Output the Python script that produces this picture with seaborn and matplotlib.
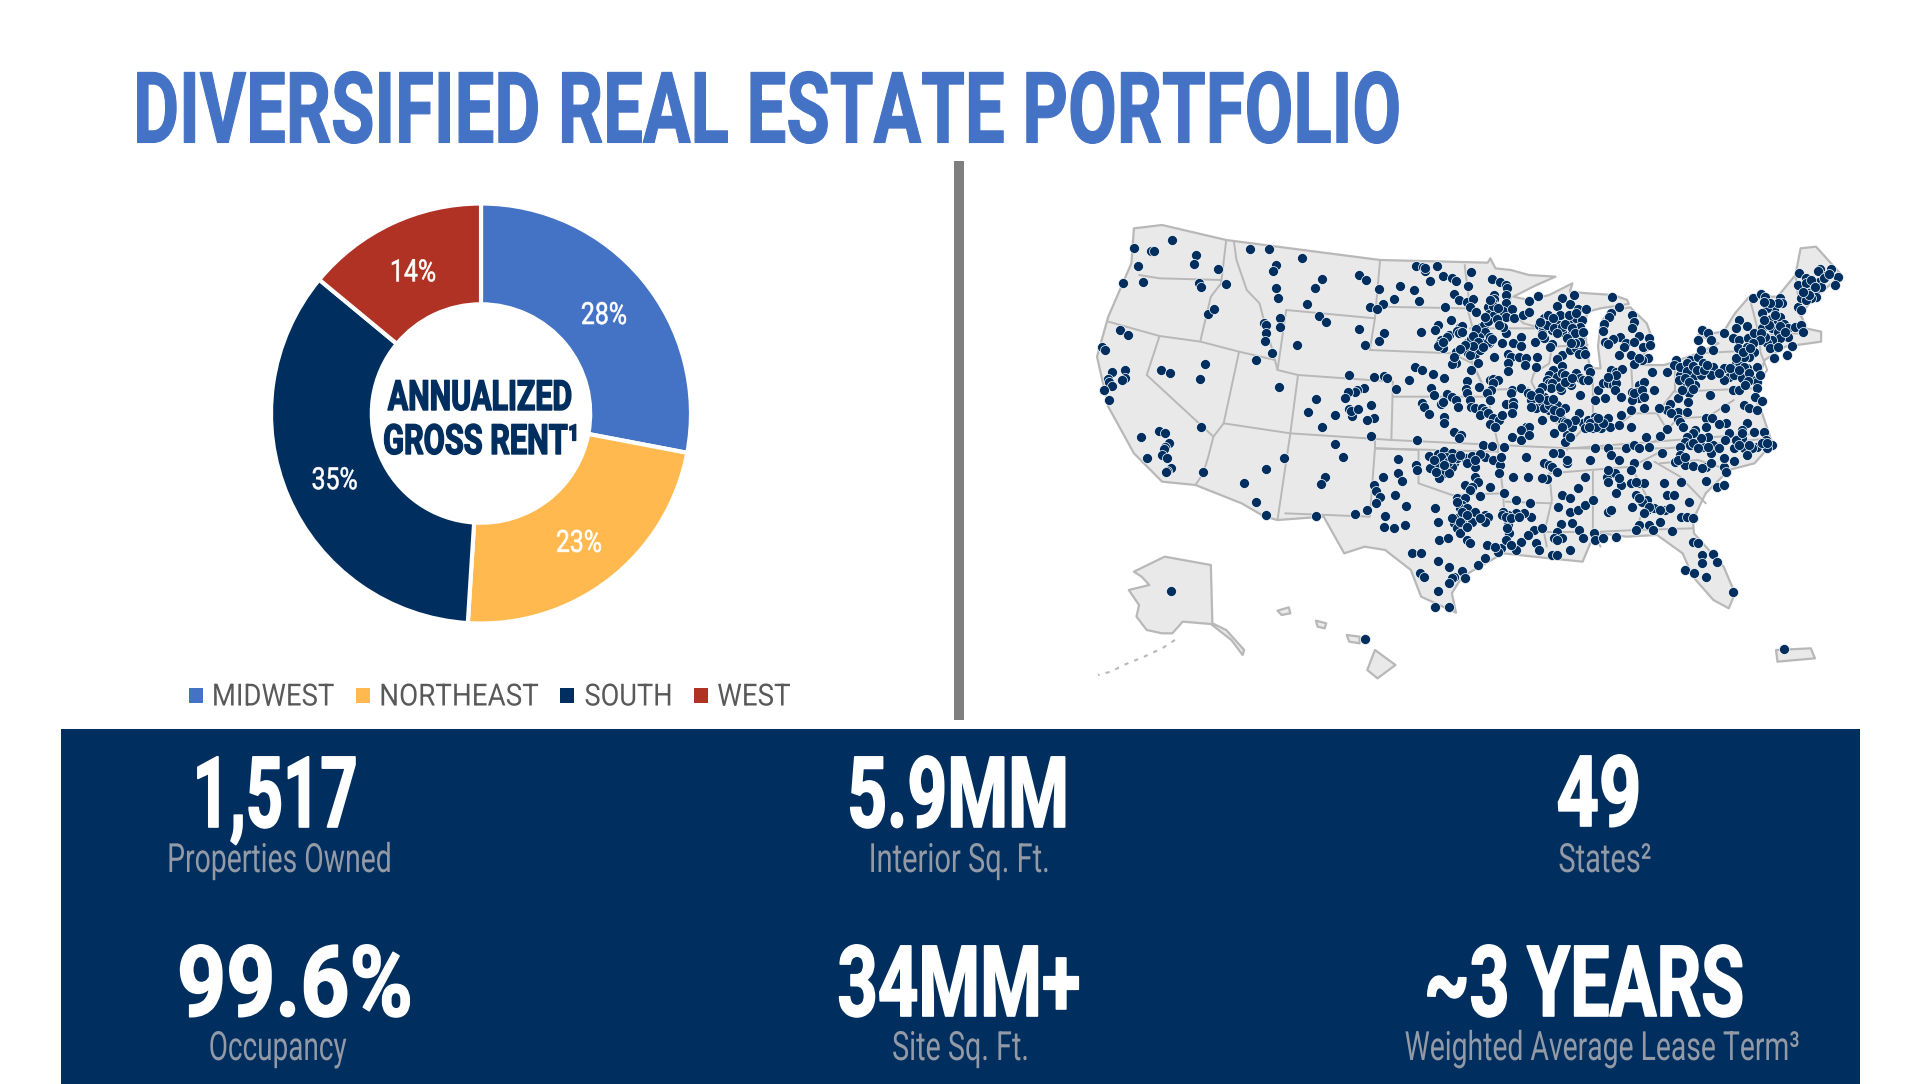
import matplotlib
matplotlib.use("Agg")
import matplotlib.pyplot as plt
import pandas as pd
import seaborn as sns
from matplotlib.patches import Rectangle
from matplotlib.patheffects import AbstractPathEffect
from matplotlib.transforms import Affine2D

NAVY = "#002f5f"
TITLE_BLUE = "#4472c4"
GREY_LABEL = "#939aa5"
LAND = "#e9e9e9"
BORDER = "#b8b8b8"

regions = ["MIDWEST", "NORTHEAST", "SOUTH", "WEST"]
rent_share = [28, 23, 35, 14]
region_colors = ["#4472c4", "#ffb94f", NAVY, "#b03224"]

big_numbers = ["1,517", "5.9MM", "49", "99.6%", "34MM+", "~3 YEARS"]
big_labels = ["Properties Owned", "Interior Sq. Ft.", "States²", "Occupancy", "Site Sq. Ft.", "Weighted Average Lease Term³"]

us_outline = [(150,85),(205,75),(330,120),(630,180),(840,188),(845,175),(855,205),(885,210),(920,225),(972,230),(935,255),(890,290),(920,300),(960,285),(1005,250),(1000,275),(1035,280),(1085,285),(1112,300),(1115,312),(1060,325),(1035,335),(1030,365),(1000,395),(1030,395),(1035,470),(1040,505),(1060,505),(1055,440),(1060,370),(1078,330),(1118,322),(1150,370),(1165,435),(1145,460),(1135,495),(1185,495),(1250,460),(1290,430),(1250,405),(1300,395),(1322,340),(1350,290),(1405,290),(1440,225),(1450,145),(1480,140),(1530,225),(1480,290),(1450,340),(1460,385),(1490,395),(1490,425),(1420,440),(1380,480),(1372,520),(1365,560),(1360,590),(1375,640),(1395,730),(1360,790),(1310,810),(1265,880),(1240,960),(1242,1000),(1300,1100),(1322,1180),(1310,1225),(1280,1200),(1240,1130),(1220,1060),(1170,1005),(1110,1010),(1060,1000),(1040,1030),(1025,1085),(960,1075),(870,1060),(790,1130),(770,1180),(778,1238),(710,1190),(690,1110),(640,1050),(600,1040),(560,1060),(520,950),(430,960),(405,950),(360,910),(270,855),(205,845),(150,760),(100,620),(78,470),(100,350),(145,190)]
alaska = [(150,1115),(210,1070),(300,1095),(303,1270),(330,1290),(365,1350),(362,1365),(340,1320),(300,1272),(245,1265),(225,1300),(205,1300),(175,1290),(155,1250),(160,1215),(140,1170),(180,1155),(165,1130)]
hawaii = [(620,1350),(660,1395),(625,1435),(605,1410)]
kauai = [(430,1232),(452,1222),(455,1240),(438,1245)]
oahu = [(505,1262),(525,1270),(522,1285),(508,1280)]
maui = [(565,1305),(590,1310),(590,1330),(570,1325)]
puerto_rico = [(1402,1350),(1470,1345),(1478,1375),(1405,1385)]
aleutians = [(230,1320),(205,1345),(170,1370),(130,1395),(105,1415),(80,1425)]

state_lines = [
    [(160,225),(200,235),(320,240)],
    [(330,120),(320,250),(300,290),(280,420)],
    [(100,365),(200,408),(280,425),(355,455),(425,480)],
    [(345,125),(350,180),(370,270),(395,310),(405,370),(420,450),(430,510)],
    [(447,330),(620,355)],
    [(447,330),(430,510),(470,525),(655,545)],
    [(470,525),(455,700)],
    [(655,545),(652,720)],
    [(355,455),(325,670),(455,700),(652,720),(860,735)],
    [(200,408),(175,525),(305,710),(295,770),(285,820),(270,855)],
    [(325,670),(305,710)],
    [(455,700),(430,960)],
    [(620,720),(620,745),(610,950),(445,940)],
    [(620,745),(705,750),(705,850),(770,885),(870,880),(875,1040),(870,1060)],
    [(620,745),(860,755),(870,880)],
    [(655,590),(840,590),(860,735)],
    [(610,450),(770,460),(810,490),(840,590)],
    [(620,355),(610,450)],
    [(620,320),(800,325),(810,380),(805,470),(835,570),(920,565)],
    [(630,180),(620,355)],
    [(795,195),(805,320)],
    [(805,385),(945,385),(965,440),(960,490),(930,520),(925,545),(960,650),(1005,710),(995,750)],
    [(885,290),(880,330),(910,370),(945,385)],
    [(965,440),(1035,435)],
    [(860,755),(860,735),(1000,745),(1165,725),(1190,690),(1170,640),(1125,640),(1120,505)],
    [(1045,500),(1045,640),(1030,680),(1005,720)],
    [(1030,680),(1080,690),(1125,640)],
    [(1205,475),(1205,570),(1170,640)],
    [(1250,460),(1370,450),(1385,510),(1360,565),(1205,575)],
    [(1165,725),(1375,700)],
    [(1005,745),(1190,745),(1390,715)],
    [(960,820),(1120,800),(1190,745)],
    [(960,820),(965,900),(950,1000),(955,1040)],
    [(875,905),(965,910)],
    [(950,995),(1010,995)],
    [(1045,815),(1045,1000),(1060,1040)],
    [(1120,800),(1150,890),(1130,990)],
    [(1060,995),(1130,990),(1240,985)],
    [(1165,785),(1215,830),(1265,910)],
    [(1175,790),(1250,780),(1310,810)],
    [(1190,690),(1210,655),(1270,650),(1320,600)],
    [(1350,290),(1365,380),(1372,450)],
    [(1405,290),(1400,385)],
    [(1440,225),(1450,350)],
    [(1365,405),(1450,400)],
    [(1365,380),(1455,375)],
]

dots_west = [(150,145),(183,153),(189,152),(224,121),(272,164),(267,193),(157,199),(128,249),(168,246),(277,250),(280,262),(313,207),(330,253),(294,341),(306,327),(122,391),(138,405),(88,440),(94,450),(108,516),(133,510),(133,535),(127,541),(100,538),(101,545),(108,558),(91,570),(102,600),(203,509),(221,519),(279,537),(289,491),(163,710),(198,694),(211,699),(218,728),(211,742),(208,747),(205,764),(215,773),(175,775),(222,804),(214,813),(212,815),(285,815),(281,682)]
dots_mountain = [(377,146),(414,146),(477,175),(428,194),(422,214),(428,263),(431,295),(488,311),(517,236),(504,264),(588,226),(602,239),(628,266),(635,311),(658,298),(611,320),(624,328),(668,257),(696,271),(706,302),(403,370),(407,376),(435,355),(435,382),(407,400),(405,423),(420,458),(389,481),(468,434),(511,347),(525,365),(588,387),(637,398),(627,422),(600,436),(709,395),(432,560),(569,524),(618,531),(638,527),(643,533),(686,539),(661,568),(598,564),(585,570),(582,575),(567,577),(561,594),(505,596),(489,636),(543,646),(576,648),(569,628),(573,632),(587,627),(612,614),(618,654),(605,660),(517,680),(613,708),(543,733),(558,771),(702,719),(442,774),(408,806),(364,850),(388,905),(408,945),(523,830),(514,853),(506,949),(581,941),(605,931)]
dots_plains = [(700,199),(714,200),(717,212),(718,203),(741,199),(728,242),(752,228),(771,234),(779,244),(801,257),(808,216),(775,282),(783,301),(800,305),(812,298),(757,321),(806,321),(818,335),(848,238),(863,245),(876,254),(877,263),(853,286),(875,285),(852,298),(849,307),(840,320),(875,310),(870,333),(888,328),(842,343),(853,345),(876,350),(891,355),(908,345),(920,335),(921,302),(938,288),(768,361),(743,374),(738,390),(765,405),(785,380),(790,378),(780,392),(783,398),(826,381),(832,376),(841,362),(858,356),(835,395),(875,398),(870,380),(905,410),(890,430),(868,430),(905,437),(932,425),(748,420),(745,432),(752,445),(778,455),(800,430),(808,418),(822,412),(828,430),(820,445),(842,430),(840,425),(815,462),(801,460),(805,465),(825,450),(778,488),(770,492),(820,490),(852,472),(880,462),(885,470),(880,490),(900,472),(914,474),(936,472),(912,496),(934,500),(880,512),(698,502),(712,511),(733,523),(754,535),(730,563),(736,585),(760,583),(770,590),(779,600),(808,510),(800,542),(798,568),(822,560),(800,580),(845,540),(850,537),(860,540),(850,550),(846,570),(838,580),(805,600),(845,600),(711,610),(716,620),(725,642),(748,613),(752,605),(781,622),(808,620),(815,623),(828,625),(835,632),(825,645),(840,640),(850,655),(862,660),(845,672),(855,680),(755,650),(755,670),(775,695),(787,705),(783,715),(888,570),(885,580),(905,565),(875,612),(890,605),(890,617),(867,645),(888,640),(918,580),(925,600),(935,625),(915,682),(920,680),(905,690),(888,710),(905,720),(920,705),(950,590)]
dots_lakes = [(940,375),(950,355),(948,385),(945,400),(960,370),(965,390),(975,372),(985,293),(975,318),(1000,312),(1008,286),(1015,327),(1032,327),(1002,370),(1012,355),(1023,360),(1020,380),(985,395),(1002,405),(1020,408),(965,432),(962,440),(985,465),(975,478),(1000,450),(1012,445),(1025,450),(1020,425),(950,415),(945,405),(958,345),(1082,290),(1095,322),(1080,340),(1077,350),(1122,345),(1125,365),(1122,385),(1067,372),(1065,392),(1098,410),(1085,418),(1068,425),(1075,432),(1135,408),(1155,413),(1110,430),(1105,440),(1125,425),(1143,440),(1157,435),(1095,466),(1120,465),(1152,475),(1140,480),(1125,492),(1135,475),(1160,515),(985,497),(968,510),(960,525),(975,530),(955,540),(960,550),(965,548),(985,520),(990,525),(1012,520),(1020,535),(1025,540),(1035,505),(1040,515),(1003,555),(982,570),(963,565),(945,560),(940,575),(925,585),(945,605),(970,610),(975,615),(990,625),(960,630),(950,625),(1000,545),(1020,585),(1055,570),(1080,510),(1090,515),(1102,507),(1065,550),(1075,550),(1085,555),(1090,550),(1050,600),(1068,595),(1088,570),(1100,590),(1122,575),(1135,555),(1130,575),(1130,590),(1145,545),(1165,570),(1135,595),(1122,600),(1120,630),(1100,645),(1145,625),(1018,640),(1025,670),(1035,660),(1050,650),(1045,665),(1060,660),(1075,655),(1045,685),(1030,685),(1060,685),(1078,682),(1120,680),(1095,675),(985,660),(990,665),(970,650),(945,660),(970,700),(995,705),(990,725),(1005,680),(1000,710)]
dots_east = [(1208,480),(1203,495),(1190,517),(1235,480),(1235,505),(1220,500),(1215,525),(1235,525),(1240,530),(1220,548),(1225,553),(1235,560),(1245,555),(1232,580),(1250,470),(1255,450),(1258,390),(1270,400),(1275,420),(1250,420),(1280,450),(1260,490),(1280,500),(1275,525),(1255,525),(1300,505),(1325,490),(1330,485),(1345,505),(1310,530),(1300,540),(1320,525),(1335,535),(1355,540),(1365,545),(1340,500),(1365,500),(1273,585),(1318,570),(1330,570),(1365,565),(1362,590),(1375,602),(1210,595),(1195,612),(1190,630),(1210,635),(1228,635),(1230,607),(1173,625),(1197,640),(1210,658),(1215,665),(1220,680),(1190,688),(1175,708),(1148,712),(1303,625),(1340,615),(1350,625),(1365,630),(1345,670),(1305,670),(1358,295),(1372,283),(1380,290),(1410,295),(1413,310),(1398,330),(1385,325),(1375,340),(1330,360),(1345,377),(1325,385),(1318,415),(1330,420),(1328,445),(1300,400),(1348,415),(1360,400),(1380,368),(1375,385),(1392,358),(1405,365),(1410,350),(1418,372),(1395,385),(1405,395),(1425,385),(1440,380),(1450,375),(1455,395),(1433,438),(1425,410),(1410,415),(1395,420),(1385,430),(1390,445),(1405,440),(1360,455),(1350,470),(1340,470),(1325,475),(1423,465),(1398,475),(1445,322),(1450,330),(1447,220),(1488,207),(1510,208),(1523,230),(1517,255),(1498,228),(1483,212),(1485,245),(1460,233),(1475,255),(1450,262),(1445,255),(1465,265),(1480,270),(1490,260),(1480,290),(1470,295),(1465,280),(1450,295),(1460,300),(1265,655),(1278,655),(1245,690),(1265,680),(1290,672),(1310,700),(1335,690),(1335,715),(1360,695),(1378,695),(1382,720),(1395,735),(1385,745),(1365,740),(1355,745),(1340,745),(1320,745),(1325,720),(1302,720),(1280,735),(1260,740),(1270,710),(1255,715),(1240,700),(1228,710),(1225,725),(1235,735),(1215,740),(1215,765),(1205,785),(1220,785),(1225,795),(1240,797),(1265,800),(1258,805),(1275,790),(1300,800),(1305,815),(1320,782),(1345,765),(1300,775),(1275,760),(1180,760),(1265,842),(1287,860),(1300,855),(1216,845),(1183,848)]
dots_south = [(665,778),(636,830),(665,820),(672,843),(700,795),(702,810),(725,767),(741,790),(728,805),(743,762),(755,752),(770,760),(758,770),(775,790),(770,800),(750,822),(765,820),(745,835),(780,775),(795,775),(810,768),(830,735),(849,737),(835,770),(825,763),(815,800),(850,780),(863,795),(862,820),(816,830),(820,845),(795,855),(810,860),(805,870),(845,862),(872,742),(865,770),(618,855),(622,872),(630,890),(623,910),(660,885),(680,918),(640,947),(638,982),(657,985),(679,974),(738,925),(743,965),(745,1020),(763,1015),(780,895),(795,895),(790,915),(785,925),(783,950),(790,970),(775,970),(780,985),(800,925),(815,935),(835,945),(840,950),(835,965),(810,965),(825,888),(785,1000),(800,1020),(805,1030),(838,1035),(865,1045),(860,1055),(855,1040),(692,1058),(710,1058),(742,1082),(765,1100),(820,1095),(835,1075),(790,1113),(796,1135),(775,1130),(770,1135),(708,1120),(715,1132),(765,1150),(742,1173),(737,1220),(765,1220),(915,770),(890,830),(872,880),(895,900),(923,908),(925,950),(910,940),(895,940),(880,945),(870,935),(880,965),(880,975),(882,1000),(875,1020),(905,1025),(895,1050),(930,990),(945,985),(918,1005),(935,1030),(940,1050),(885,1035),(950,790),(960,795),(965,800),(955,838),(975,815),(995,790),(980,760),(968,760),(995,780),(918,830),(945,835),(1016,865),(1030,830),(985,885),(1000,895),(977,922),(1000,935),(1015,930),(1030,915),(1045,900),(1075,935),(1080,930),(982,973),(1005,970),(975,995),(1018,990),(970,1015),(985,1015),(975,1020),(1000,1050),(965,1065),(975,1065),(1048,1000),(1025,1015),(1050,1020),(1065,1015),(1090,1012),(1040,780),(1050,745),(1075,745),(1110,745),(1125,735),(1135,745),(1155,740),(1080,765),(1095,780),(1125,790),(1150,795),(1120,810),(1072,830),(1088,820),(1075,845),(1100,855),(1090,880),(1120,850),(1135,850),(1145,850),(1130,885),(1150,900),(1122,920),(1140,905),(1150,930),(1165,925),(1185,930),(1195,925),(1190,885),(1203,885),(1232,907),(1217,950),(1228,950),(1240,955),(1175,967),(1155,975),(1135,975),(1130,990),(1162,990),(1200,992)]
dots_florida = [(1240,1025),(1250,1030),(1257,1065),(1280,1063),(1287,1085),(1257,1090),(1224,1110),(1243,1120),(1265,1130),(1318,1177)]
dots_islands = [(223,1172),(600,1318),(1417,1348)]
dots_clusters = [(835,352),(850,318),(845,300),(860,325),(862,375),(818,388),(812,408),(845,410),(848,418),(820,425),(812,438),(830,440),(795,435),(785,448),(775,470),(760,410),(742,438),(753,425),(790,395),(955,375),(942,365),(970,385),(985,380),(990,372),(1005,385),(1010,398),(1025,395),(995,415),(975,400),(980,345),(998,345),(1012,340),(968,355),(1010,430),(1002,430),(1018,462),(1030,462),(1215,500),(1228,490),(1228,512),(1240,498),(1248,510),(1212,540),(1225,535),(1232,545),(1240,568),(1218,570),(1262,510),(1268,495),(1290,518),(1312,505),(1330,510),(1350,520),(1348,542),(1342,555),(1370,525),(1380,410),(1372,398),(1388,375),(1378,360),(1400,345),(1410,378),(1420,395),(1370,420),(1358,428),(1345,440),(1338,455),(1352,445),(1405,310),(1390,310),(1378,305),(1460,250),(1470,240),(1478,262),(1495,235),(1505,222),(1467,285),(1455,275),(748,770),(762,785),(770,775),(785,765),(735,780),(755,795),(740,815),(800,790),(815,780),(780,905),(790,935),(800,945),(770,955),(785,965),(800,980),(825,955),(868,945),(875,950),(885,955),(900,950),(878,985),(1040,668),(1052,680),(1065,670),(1055,655),(1038,680),(1010,660),(995,670),(985,680),(960,615),(970,630),(980,635),(955,600),(940,595),(925,620),(968,598),(980,560),(990,545),(1005,535),(1035,540),(1090,525),(1125,580),(1140,570),(1145,590),(1075,530),(1240,730),(1250,745),(1270,740),(1290,745),(1330,735),(1350,735),(1375,730),(1385,730),(1335,700),(1210,780),(1225,770),(1135,895),(1155,920),(1175,930),(1145,940),(1075,810),(1095,835),(1130,845)]


class Tall(AbstractPathEffect):
    # no condensed font is installed: the text is set small enough to fit its width,
    # then stretched up from its baseline and thickened
    def __init__(self, sy, grow=0):
        super().__init__()
        self.sy = sy
        self.grow = grow

    def draw_path(self, renderer, gc, tpath, affine, rgbFace=None):
        y0 = affine.get_matrix()[1, 2]
        tall = affine + Affine2D().translate(0, -y0).scale(1, self.sy).translate(0, y0)
        gc2 = renderer.new_gc()
        gc2.copy_properties(gc)
        gc2.set_linewidth(self.grow)
        if self.grow:
            gc2.set_foreground(rgbFace)
        renderer.draw_path(gc2, tpath, tall, rgbFace)
        gc2.restore()


def fit_width(text, width, grow=0):
    box = text.get_window_extent(fig.canvas.get_renderer())
    sx = width / box.width
    text.set_fontsize(text.get_fontsize() * sx)
    text.set_path_effects([Tall(1 / sx, grow)])


def put(x, y, s, size, color, width, weight="regular", grow=0):
    t = bg.text(x, y, s, fontsize=size, color=color, fontweight=weight, ha="center", va="baseline")
    fit_width(t, width, grow)
    return t


sns.set_theme(style="white")
plt.rcParams["font.family"] = ["Roboto", "DejaVu Sans"]

fig = plt.figure(figsize=(19.15, 10.84), dpi=100)
W, H = 1915, 1084

bg = fig.add_axes([0, 0, 1, 1])
bg.set_xlim(0, W)
bg.set_ylim(H, 0)
bg.axis("off")

put(767, 142.5, "DIVERSIFIED REAL ESTATE PORTFOLIO", 71, TITLE_BLUE, 1268, "bold", 0.8)
bg.add_patch(Rectangle((954, 161), 10, 559, color="#7f7f7f", lw=0))
bg.add_patch(Rectangle((61, 729), 1799, 355, color=NAVY, lw=0))

# donut
palette = sns.color_palette(region_colors)
pie_ax = fig.add_axes([(481 - 210) / W, 1 - (413.5 + 210) / H, 420 / W, 420 / H])
wedges, _, pct_texts = pie_ax.pie(
    rent_share,
    colors=palette,
    startangle=90,
    counterclock=False,
    radius=1,
    autopct="%d%%",
    pctdistance=0.76,
    wedgeprops={"width": 0.48, "edgecolor": "white", "linewidth": 3},
    textprops={"color": "white", "fontsize": 22},
)
pie_ax.set_xlim(-1, 1)
pie_ax.set_ylim(-1, 1)
for t in pct_texts:
    t.set_y(t.get_position()[1] - 0.025)
    fit_width(t, 46, 0.4)

put(480, 410, "ANNUALIZED", 30, NAVY, 184, "bold", 1)
put(481, 454, "GROSS RENT¹", 30, NAVY, 196, "bold", 1)

# legend, laid out by hand to follow the original spacing
legend_square_x = [189, 356, 560, 694.5]
legend_text_x = [273, 459, 628.6, 754]
legend_text_w = [122, 159, 88, 73]
for name, color, sq, tx, tw in zip(regions, palette, legend_square_x, legend_text_x, legend_text_w):
    bg.add_patch(Rectangle((sq, 688), 14, 15, color=color, lw=0))
    put(tx, 705.5, name, 22, "#595959", tw)

# map
map_ax = fig.add_axes([1057 / W, 1 - 720 / H, 800 / W, 520 / H])
map_ax.set_xlim(0, 1560)
map_ax.set_ylim(1560, 0)
map_ax.axis("off")
for shape in [us_outline, alaska, hawaii, kauai, oahu, maui, puerto_rico]:
    xs, ys = zip(*shape)
    map_ax.fill(xs, ys, facecolor=LAND, edgecolor=BORDER, linewidth=1.6, joinstyle="round")
for line in state_lines:
    xs, ys = zip(*line)
    map_ax.plot(xs, ys, color=BORDER, linewidth=1.4)
xs, ys = zip(*aleutians)
map_ax.plot(xs, ys, color=BORDER, linewidth=1.5, linestyle=(0, (2, 3)))

all_dots = dots_west + dots_mountain + dots_plains + dots_lakes + dots_east + dots_south + dots_florida + dots_islands + dots_clusters
dots = pd.DataFrame(all_dots, columns=["x", "y"])
sns.scatterplot(data=dots, x="x", y="y", ax=map_ax, color=NAVY, s=52, edgecolor="white", linewidth=0.5, legend=False, zorder=5)
map_ax.set_xlabel("")
map_ax.set_ylabel("")

# figures in the band
number_x = [275, 958, 1599, 295, 959, 1584]
number_y = [827, 827, 826, 1016, 1016, 1016]
number_w = [165, 222, 85, 236, 243, 320]
label_x = [279.5, 959.3, 1605, 277.7, 960.5, 1602.5]
label_y = [872, 872, 872, 1060, 1060, 1060]
label_w = [224.6, 181, 93, 138, 137, 395]
for i in range(6):
    put(number_x[i], number_y[i], big_numbers[i], 71, "white", number_w[i], "bold", 1.2)
    put(label_x[i], label_y[i], big_labels[i], 29, GREY_LABEL, label_w[i])

fig.savefig("out.png", dpi=100)
